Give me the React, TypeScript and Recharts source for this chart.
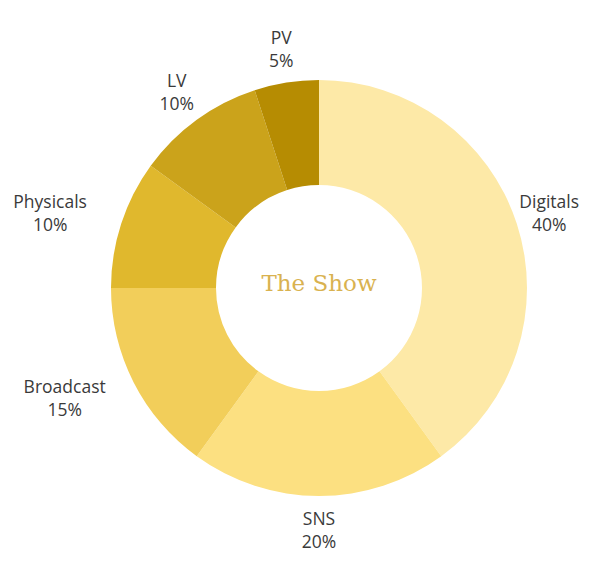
import { PieChart, Pie, Cell, Label } from 'recharts'

const categories = ['Digitals', 'SNS', 'Broadcast', 'Physicals', 'LV', 'PV']
const shares = [40, 20, 15, 10, 10, 5]
const colors = ['#FDE9A7', '#FCE081', '#F2CE5A', '#E0B82D', '#CBA31B', '#B68C02']

const data = categories.map((name, i) => ({ name, value: shares[i] }))

const RADIAN = Math.PI / 180
const CX = 319
const CY = 288

// two-line label (name / percent) placed outside the ring along the slice's mid angle
function SliceLabel(props: any) {
  const { cx, cy, midAngle, outerRadius, name, value } = props
  const cos = Math.cos(-midAngle * RADIAN)
  const sin = Math.sin(-midAngle * RADIAN)
  const r = outerRadius + 34
  // long names get nudged sideways so they clear the ring
  const shift = name.length > 8 ? name.length * 4.3 * Math.sign(cos) : 0
  const x = cx + r * cos + shift
  const y = cy + r * sin
  return (
    <text
      x={x}
      y={y}
      textAnchor="middle"
      fill="#3a3a3a"
      fontSize={17.5}
      fontFamily="'Open Sans', sans-serif"
    >
      <tspan x={x} dy={-5}>{name}</tspan>
      <tspan x={x} dy={23}>{`${value}%`}</tspan>
    </text>
  )
}

function CenterTitle() {
  return (
    <text
      x={CX}
      y={CY - 5}
      textAnchor="middle"
      dominantBaseline="central"
      fill="#D9B250"
      fontSize={23}
      fontFamily="'DejaVu Serif', serif"
    >
      The Show
    </text>
  )
}

export default function App() {
  return (
    <div style={{ position: 'absolute', left: 0, top: 0, width: 599, height: 578, background: '#fff' }}>
      <PieChart width={599} height={578} margin={{ top: 0, right: 0, bottom: 0, left: 0 }}>
        <Pie
          data={data}
          dataKey="value"
          nameKey="name"
          cx={CX}
          cy={CY}
          innerRadius={103}
          outerRadius={208}
          startAngle={90}
          endAngle={-270}
          stroke="none"
          labelLine={false}
          label={SliceLabel}
          isAnimationActive={false}
        >
          {data.map((d, i) => (
            <Cell key={d.name} fill={colors[i]} />
          ))}
          <Label position="center" content={CenterTitle} />
        </Pie>
      </PieChart>
    </div>
  )
}
